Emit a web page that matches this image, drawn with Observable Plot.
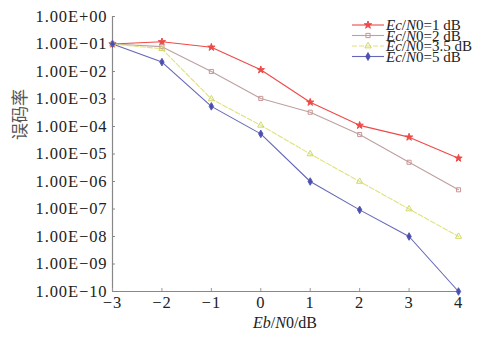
<!DOCTYPE html>
<html>
<head>
<meta charset="utf-8">
<script src="https://cdn.jsdelivr.net/npm/d3@7"></script>
<script src="https://cdn.jsdelivr.net/npm/@observablehq/plot@0.6"></script>
<style>
  html, body { margin: 0; padding: 0; background: #fff; }
  #chart { position: relative; width: 492px; height: 346px; }
  #chart g[aria-label="y-axis tick label"] text { letter-spacing: 0.9px; }
  #chart g[aria-label="x-axis tick label"] text { letter-spacing: 1px; }
</style>
</head>
<body>
<div id="chart"></div>
<script>
// ---- data ----
const ebn0 = [-3, -2, -1, 0, 1, 2, 3, 4];
const seriesNames = ["Ec/N0=1 dB", "Ec/N0=2 dB", "Ec/N0=3.5 dB", "Ec/N0=5 dB"];
const ber1  = [1e-1, 1.2e-1, 7.6e-2, 1.15e-2, 7.6e-4, 1.1e-4, 4.1e-5, 7e-6];
const ber2  = [1e-1, 8e-2, 1e-2, 1.05e-3, 3.3e-4, 5.1e-5, 5e-6, 5e-7];
const ber35 = [1e-1, 6.7e-2, 1e-3, 1.1e-4, 1e-5, 1e-6, 1e-7, 1e-8];
const ber5  = [1e-1, 2.2e-2, 5.4e-4, 5.4e-5, 1e-6, 9.3e-8, 1e-8, 1e-10];
const yTicks = [1, 1e-1, 1e-2, 1e-3, 1e-4, 1e-5, 1e-6, 1e-7, 1e-8, 1e-9, 1e-10];
const xTicks = [-3, -2, -1, 0, 1, 2, 3, 4];

// ---- styles ----
const colors  = ["#ee4a48", "#c99595", "#cfd86a", "#5a5cb4"];
const lineCol = ["#ee4a48", "#bfa0a0", "#dfe27e", "#6466b8"];
const symbols = ["star", "square", "triangle", "diamond"];
const fills   = ["#ee4a48", "none", "none", "#4a4cb0"];
const dashes  = [null, null, "5,2", null];

const allSeries = [ber1, ber2, ber35, ber5];
const rows = [];
allSeries.forEach((vals, s) => vals.forEach((v, i) => rows.push({s, x: ebn0[i], y: v})));

const serif = "'Liberation Serif', 'Times New Roman', serif";
const fmt = d => {
  const e = Math.round(Math.log10(d));
  const a = Math.abs(e);
  return "1.00E" + (e < 0 ? "\u2212" : "+") + (a < 10 ? "0" + a : "" + a);
};

const marks = [];
allSeries.forEach((vals, s) => {
  const data = rows.filter(r => r.s === s);
  marks.push(Plot.line(data, {x: "x", y: "y", stroke: lineCol[s], strokeWidth: 1.1, strokeDasharray: dashes[s]}));
});
allSeries.forEach((vals, s) => {
  const data = rows.filter(r => r.s === s);
  marks.push(Plot.dot(data, {x: "x", y: "y", symbol: () => symbols[s], r: 2.3,
    stroke: colors[s], fill: fills[s], strokeWidth: 1}));
});

const plot = Plot.plot({
  width: 492,
  height: 346,
  marginLeft: 112,
  marginRight: 34,
  marginTop: 16,
  marginBottom: 55,
  style: {fontFamily: serif, fontSize: "16px", color: "#222", background: "#fff"},
  x: {domain: [-3, 4]},
  y: {type: "log", domain: [1e-10, 1]},
  marks: [
    Plot.ruleX([-3], {stroke: "#888", strokeWidth: 1.2}),
    Plot.ruleY([1e-10], {stroke: "#888", strokeWidth: 1.2}),
    Plot.axisY(yTicks, {anchor: "left", tickSize: -3, tickFormat: () => "", stroke: "#888", label: null}),
    Plot.axisY(yTicks, {anchor: "left", tickSize: 0, tickPadding: 5, tickFormat: fmt, fontSize: 16.5, fill: "#222", label: null}),
    Plot.axisX(xTicks, {anchor: "bottom", tickSize: -3, tickFormat: () => "", stroke: "#999", label: null}),
    Plot.axisX(xTicks, {anchor: "bottom", tickSize: 0, tickPadding: 5, fontSize: 16.5, fill: "#222", label: null,
      tickFormat: d => (d < 0 ? "\u2212" + Math.abs(d) : "" + d)}),
    Plot.text(["误码率"], {frameAnchor: "left", rotate: -90, dx: -92, dy: -14,
      fontFamily: "'Noto Sans CJK SC', sans-serif", fontSize: 17, fill: "#555"}),
    ...marks
  ]
});

document.getElementById("chart").appendChild(plot);

// x axis title (italic parts)
const svg = d3.select(plot);
const xt = svg.append("text")
  .attr("x", 285).attr("y", 328)
  .attr("text-anchor", "middle")
  .attr("font-family", serif).attr("font-size", 16).attr("fill", "#222");
xt.append("tspan").attr("font-style", "italic").text("Eb");
xt.append("tspan").text("/");
xt.append("tspan").attr("font-style", "italic").text("N");
xt.append("tspan").text("0/dB");

// legend
const lg = svg.append("g");
seriesNames.forEach((name, s) => {
  const y = 25 + s * 10.5;
  lg.append("line").attr("x1", 352).attr("x2", 384).attr("y1", y).attr("y2", y)
    .attr("stroke", lineCol[s]).attr("stroke-width", 1.1)
    .attr("stroke-dasharray", dashes[s]);
  const sym = d3.symbol().type({star: d3.symbolStar, square: d3.symbolSquare, triangle: d3.symbolTriangle, diamond: d3.symbolDiamond}[symbols[s]]).size(18);
  lg.append("path").attr("d", sym()).attr("transform", `translate(368,${y})`)
    .attr("stroke", colors[s]).attr("fill", fills[s]).attr("stroke-width", 1);
  const m = name.match(/^(Ec)\/(N)(0=.*)$/);
  const t = lg.append("text").attr("x", 386).attr("y", y).attr("dy", "0.35em")
    .attr("text-anchor", "start")
    .attr("font-family", serif).attr("font-size", 15).attr("fill", "#222");
  t.append("tspan").attr("font-style", "italic").text(m[1]);
  t.append("tspan").text("/");
  t.append("tspan").attr("font-style", "italic").text(m[2]);
  t.append("tspan").text(m[3]);
});
</script>
</body>
</html>
